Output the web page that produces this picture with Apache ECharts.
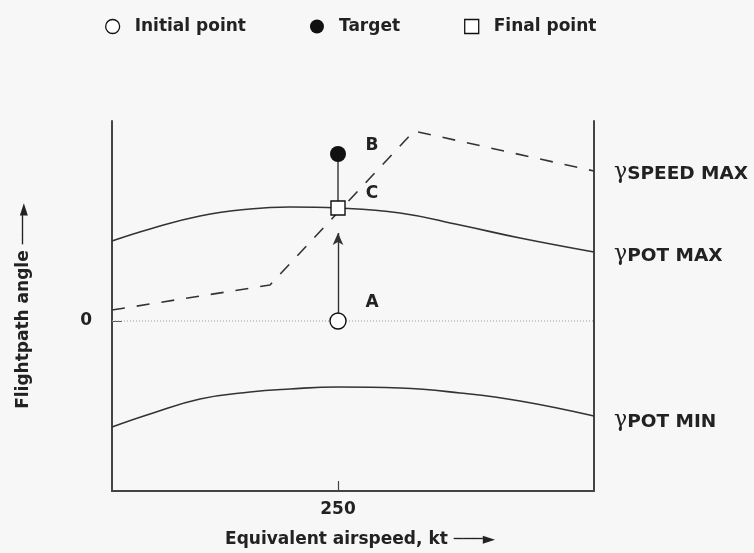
<!DOCTYPE html>
<html>
<head>
<meta charset="utf-8">
<script src="https://cdn.jsdelivr.net/npm/echarts@6/dist/echarts.min.js"></script>
<style>
html,body{margin:0;padding:0;background:#f7f7f7;}
#chart{width:754px;height:553px;}
</style>
</head>
<body>
<div id="chart"></div>
<script>
// Equivalent airspeed (kt) sample positions along the curves
const airspeed = [137, 156, 181, 206, 226, 250, 281, 311, 341, 378];
// gamma POT MAX curve
const gammaPotMax = [8.0, 9.2, 10.5, 11.2, 11.4, 11.3, 10.8, 9.6, 8.3, 6.9];
// gamma POT MIN curve
const gammaPotMin = [-10.6, -9.3, -7.8, -7.1, -6.8, -6.6, -6.7, -7.2, -8.0, -9.5];
// gamma SPEED MAX (dashed, piecewise)
const speedMaxX = [137, 216, 288, 378];
const speedMaxY = [1.1, 3.6, 19.0, 15.0];
// Points
const initialPoint = [250, 0];
const targetPoint = [250, 16.7];
const finalPoint = [250, 11.3];
const arrowEnd = [250, 8.8];
// Axis ticks / labels
const xTicks = [250];
const yTicks = [0];
const xRange = [137, 378];
const yRange = [-17, 20];

const FONT = 'DejaVu Sans';
const INK = '#222';
const LINE = '#333';

const chart = echarts.init(document.getElementById('chart'), null, {renderer: 'canvas'});

function endLbl(main, dy) {
  return {
    show: true,
    distance: 20,
    offset: [0, dy],
    formatter: '{g|γ}{t|' + main + '}',
    rich: {
      g: {fontFamily: 'DejaVu Serif', fontSize: 22, fontWeight: 'normal', color: INK, padding: [0, 0, 3, 0]},
      t: {fontFamily: FONT, fontSize: 18.5, fontWeight: 'bold', color: INK}
    }
  };
}

const option = {
  backgroundColor: '#f7f7f7',
  animation: false,
  textStyle: {fontFamily: FONT},
  legend: {
    left: 100,
    top: 13,
    itemGap: 64,
    itemWidth: 14,
    itemHeight: 14,
    textStyle: {fontFamily: FONT, fontSize: 17, fontWeight: 'bold', color: INK, padding: [0, 0, 0, 10]},
    data: [
      {name: 'Initial point', icon: 'circle', itemStyle: {color: '#fff', borderColor: '#111', borderWidth: 1.3}},
      {name: 'Target', icon: 'circle', itemStyle: {color: '#111', borderColor: '#111', borderWidth: 0}},
      {name: 'Final point', icon: 'rect', itemStyle: {color: '#fff', borderColor: '#111', borderWidth: 1.3}}
    ]
  },
  grid: {left: 112, right: 160, top: 121, bottom: 62, containLabel: false},
  xAxis: {
    type: 'value',
    min: xRange[0],
    max: xRange[1],
    splitLine: {show: false},
    axisLine: {show: true, onZero: false, lineStyle: {color: '#444', width: 2}},
    axisTick: {show: true, inside: true, length: 10, customValues: xTicks, lineStyle: {color: '#444', width: 1.2}},
    axisLabel: {customValues: xTicks, margin: 10, fontFamily: FONT, fontSize: 17, fontWeight: 'bold', color: INK},
    name: 'Equivalent airspeed, kt {a|───►}',
    nameLocation: 'middle',
    nameGap: 40,
    nameTextStyle: {
      fontFamily: FONT, fontSize: 17, fontWeight: 'bold', color: INK, padding: [0, 0, 0, 14],
      rich: {a: {fontFamily: FONT, fontSize: 16, fontWeight: 'normal', color: INK}}
    }
  },
  yAxis: [
    {
      type: 'value',
      min: yRange[0],
      max: yRange[1],
      position: 'left',
      splitLine: {show: false},
      axisLine: {show: true, onZero: false, lineStyle: {color: '#444', width: 2}},
      axisTick: {show: true, inside: true, length: 10, customValues: yTicks, lineStyle: {color: '#555', width: 1}},
      axisLabel: {customValues: yTicks, margin: 20, fontFamily: FONT, fontSize: 17, fontWeight: 'bold', color: INK},
      name: 'Flightpath angle {a|───►}',
      nameLocation: 'middle',
      nameRotate: 90,
      nameGap: 80,
      nameTextStyle: {
        fontFamily: FONT, fontSize: 17, fontWeight: 'bold', color: INK,
        rich: {a: {fontFamily: FONT, fontSize: 16, fontWeight: 'normal', color: INK}}
      }
    },
    {
      type: 'value',
      min: yRange[0],
      max: yRange[1],
      position: 'right',
      splitLine: {show: false},
      axisLine: {show: true, onZero: false, lineStyle: {color: '#444', width: 2}},
      axisTick: {show: false},
      axisLabel: {show: false}
    }
  ],
  series: [
    {
      name: 'zero',
      type: 'line',
      data: [[xRange[0], 0], [xRange[1], 0]],
      symbol: 'none',
      silent: true,
      lineStyle: {color: '#999', width: 1, type: [1, 2]},
      z: 1
    },
    {
      name: 'γPOT MAX',
      type: 'line',
      smooth: 0.45,
      symbol: 'none',
      data: airspeed.map((x, i) => [x, gammaPotMax[i]]),
      lineStyle: {color: LINE, width: 1.6},
      endLabel: endLbl('POT MAX', 4),
      z: 2
    },
    {
      name: 'γPOT MIN',
      type: 'line',
      smooth: 0.45,
      symbol: 'none',
      data: airspeed.map((x, i) => [x, gammaPotMin[i]]),
      lineStyle: {color: LINE, width: 1.6},
      endLabel: endLbl('POT MIN', 6),
      z: 2
    },
    {
      name: 'γSPEED MAX',
      type: 'line',
      symbol: 'none',
      data: speedMaxX.map((x, i) => [x, speedMaxY[i]]),
      lineStyle: {color: LINE, width: 1.6, type: [13, 12]},
      endLabel: endLbl('SPEED MAX', 3),
      z: 2
    },
    {
      name: 'connector',
      type: 'line',
      symbol: 'none',
      data: [finalPoint, targetPoint],
      lineStyle: {color: LINE, width: 1.4},
      z: 3
    },
    {
      name: 'arrow',
      type: 'line',
      symbol: 'none',
      data: [],
      z: 3,
      markLine: {
        silent: true,
        symbol: ['none', 'arrow'],
        symbolSize: [8, 12],
        label: {show: false},
        lineStyle: {color: LINE, width: 1.4, type: 'solid'},
        data: [[{coord: initialPoint}, {coord: arrowEnd}]]
      }
    },
    {
      name: 'Initial point',
      type: 'scatter',
      symbol: 'circle',
      symbolSize: 16,
      data: [initialPoint],
      itemStyle: {color: '#fff', borderColor: '#111', borderWidth: 1.4, opacity: 1},
      label: {show: true, formatter: 'A', position: 'inside', offset: [34, -18], fontFamily: FONT, fontSize: 17, fontWeight: 'bold', color: INK},
      z: 5
    },
    {
      name: 'Target',
      type: 'scatter',
      symbol: 'circle',
      symbolSize: 16,
      data: [targetPoint],
      itemStyle: {color: '#111', borderColor: '#111', borderWidth: 0, opacity: 1},
      label: {show: true, formatter: 'B', position: 'inside', offset: [34, -8], fontFamily: FONT, fontSize: 17, fontWeight: 'bold', color: INK},
      z: 5
    },
    {
      name: 'Final point',
      type: 'scatter',
      symbol: 'rect',
      symbolSize: 14,
      data: [finalPoint],
      itemStyle: {color: '#fff', borderColor: '#111', borderWidth: 1.4, opacity: 1},
      label: {show: true, formatter: 'C', position: 'inside', offset: [34, -14], fontFamily: FONT, fontSize: 17, fontWeight: 'bold', color: INK},
      z: 5
    }
  ]
};
chart.setOption(option);
</script>
</body>
</html>
